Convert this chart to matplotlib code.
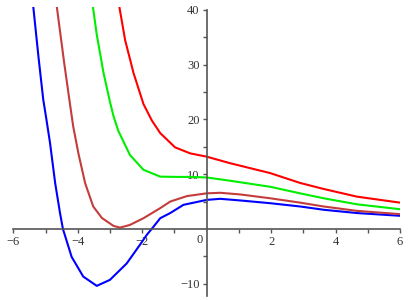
import matplotlib.pyplot as plt
import numpy as np

# curve samples
blue_x = [-5.40, -5.38, -5.22, -5.07, -4.98, -4.86, -4.70, -4.55, -4.46, -4.19, -3.83, -3.41, -3.0, -2.48, -2.07, -1.86, -1.65, -1.44, -1.13, -0.72, 0.0, 0.42, 1.04, 1.97, 2.9, 3.63, 4.66, 6.0]
blue_y = [41.5, 40.6, 31.5, 23.6, 20.3, 15.7, 8.35, 2.9, 0.0, -5.1, -8.7, -10.4, -9.3, -6.3, -2.9, -1.1, 0.4, 1.96, 2.9, 4.4, 5.3, 5.5, 5.2, 4.7, 4.1, 3.5, 2.9, 2.4]

brown_x = [-4.68, -4.65, -4.42, -4.26, -4.14, -3.98, -3.77, -3.52, -3.25, -2.89, -2.69, -2.38, -1.96, -1.44, -1.13, -0.61, 0.0, 0.42, 1.04, 1.97, 2.9, 3.63, 4.66, 6.0]
brown_y = [41.5, 40.6, 30.3, 23.6, 18.7, 13.8, 8.35, 4.1, 2.0, 0.55, 0.24, 0.73, 1.96, 3.8, 5.0, 6.0, 6.5, 6.6, 6.3, 5.6, 4.8, 4.1, 3.3, 2.7]

green_x = [-3.55, -3.53, -3.41, -3.2, -3.0, -2.89, -2.74, -2.38, -1.96, -1.44, -0.93, -0.51, 0.0, 0.73, 1.97, 2.9, 3.63, 4.66, 6.0]
green_y = [41.5, 40.6, 35.5, 28.5, 23.2, 20.6, 17.9, 13.5, 10.8, 9.55, 9.5, 9.5, 9.4, 8.8, 7.7, 6.5, 5.6, 4.5, 3.6]

red_x = [-2.73, -2.71, -2.53, -2.27, -1.96, -1.70, -1.44, -0.98, -0.51, 0.0, 0.73, 1.97, 2.9, 3.63, 4.66, 6.0]
red_y = [41.5, 40.6, 34.5, 28.5, 22.8, 19.8, 17.5, 14.9, 13.8, 13.2, 12.0, 10.2, 8.4, 7.3, 5.9, 4.8]

x_ticks = [-6, -4, -2, 2, 4, 6]
y_ticks = [-10, 10, 20, 30, 40]

plt.rcParams['font.family'] = ['Liberation Serif', 'DejaVu Serif']

fig = plt.figure(figsize=(4.09, 3.00), dpi=100)
ax = fig.add_axes([0.0325, 0.0143, 0.9455, 0.9635])

ax.plot(blue_x, blue_y, color='#0000ff', lw=1.5)
ax.plot(brown_x, brown_y, color='#c43c3c', lw=1.5)
ax.plot(green_x, green_y, color='#00ee00', lw=1.5)
ax.plot(red_x, red_y, color='#ff0000', lw=1.5)

ax.set_xlim(-6, 6)
ax.set_ylim(-12.2, 40.6)

for side in ['top', 'right']:
    ax.spines[side].set_visible(False)
ax.spines['left'].set_position(('data', 0))
ax.spines['bottom'].set_position(('data', 0))
ax.spines['left'].set_bounds(-12.2, 40)
for side in ['left', 'bottom']:
    ax.spines[side].set_color('#555555')
    ax.spines[side].set_linewidth(1.2)

ax.set_xticks(x_ticks)
ax.set_xticks([-5, -3, -1, 1, 3, 5], minor=True)
ax.set_yticks(y_ticks)
ax.set_yticks([-5, 5, 15, 25, 35], minor=True)
ax.set_xticklabels(['\u22126', '\u22124', '\u22122', '2', '4', '6'])
ax.set_yticklabels(['\u221210', '10', '20', '30', '40'])
ax.tick_params(which='both', direction='out', length=3, width=1, color='#555555',
               labelsize=9, labelcolor='#333333', pad=2)
ax.annotate('0', xy=(0, 0), xytext=(-4.7, -8), textcoords='offset points',
            ha='center', va='center', fontsize=9, color='#333333')

fig.savefig('out.png', dpi=100)
